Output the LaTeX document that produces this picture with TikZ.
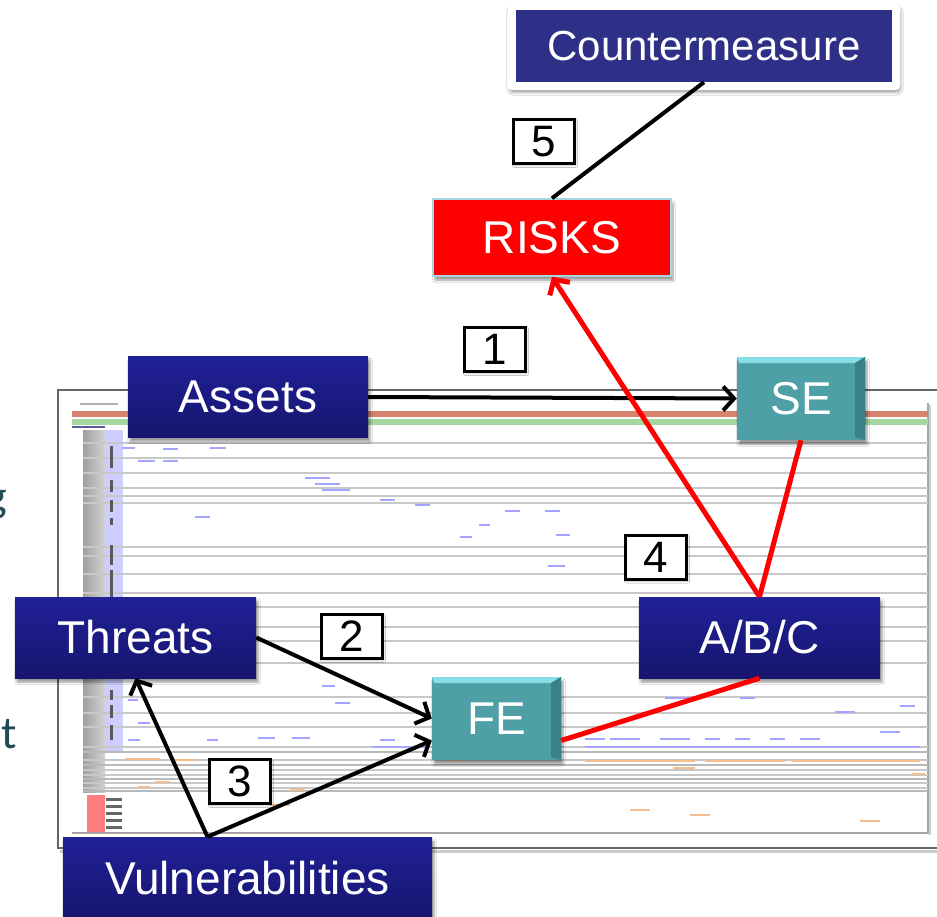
\documentclass[tikz,border=0pt]{standalone}
\usepackage{fontspec}
\setmainfont{Liberation Sans}
\newfontfamily\calfont{Carlito}
\usetikzlibrary{arrows.meta,shadows.blur,calc}
\definecolor{navytop}{RGB}{32,32,152}
\definecolor{navybot}{RGB}{22,22,110}
\definecolor{cmblue}{RGB}{46,48,135}
\definecolor{tealmain}{RGB}{78,160,166}
\definecolor{tealtop}{RGB}{135,222,230}
\definecolor{tealdark}{RGB}{58,128,135}
\definecolor{riskborder}{RGB}{165,215,225}
\definecolor{slate}{RGB}{35,75,85}
\definecolor{gridline}{RGB}{200,200,200}
\definecolor{dashblue}{RGB}{165,165,255}
\definecolor{dashorange}{RGB}{245,190,140}
\definecolor{bandred}{RGB}{215,130,110}
\definecolor{bandgreen}{RGB}{165,215,160}
\definecolor{lavender}{RGB}{205,205,255}
\definecolor{pinkblock}{RGB}{255,125,125}
\begin{document}
\begin{tikzpicture}[x=1pt,y=-1pt,
  bigfont/.style={font=\fontsize{46}{46}\selectfont},
  softshadow/.style={blur shadow={shadow xshift=2pt,shadow yshift=-4pt,shadow blur steps=6,shadow opacity=40}},
  navybox/.style={draw=none,top color=navytop,bottom color=navybot,text=white,bigfont,
    minimum width=#1,minimum height=81pt,inner sep=0pt,softshadow},
  tealbox/.style={fill=tealmain,text=white,bigfont,minimum width=#1,minimum height=83pt,inner sep=0pt,softshadow,
    path picture={
      \fill[tealtop] (path picture bounding box.north west) -- (path picture bounding box.north east)
        -- ([xshift=-10pt,yshift=-6pt]path picture bounding box.north east)
        -- ([xshift=2pt,yshift=-6pt]path picture bounding box.north west) -- cycle;
      \fill[tealdark] (path picture bounding box.north east) -- (path picture bounding box.south east)
        -- ([xshift=-10pt,yshift=3pt]path picture bounding box.south east)
        -- ([xshift=-10pt,yshift=-6pt]path picture bounding box.north east) -- cycle;
    }},
  numbox/.style={draw=black,line width=3pt,fill=white,minimum width=61pt,minimum height=44pt,
    inner sep=0pt,font=\fontsize{44}{44}\selectfont,
    blur shadow={shadow xshift=1pt,shadow yshift=-2pt,shadow blur steps=4,shadow opacity=25}},
  blackline/.style={draw=black,line width=4pt},
  redline/.style={draw=red,line width=5pt},
  barb/.style={-{Straight Barb[length=11pt,width=24pt]}},
  shotline/.style={draw=gridline,line width=1.6pt},
  bluedash/.style={draw=dashblue,line width=1.6pt},
  orangedash/.style={draw=dashorange,line width=2pt}
]
\useasboundingbox (0,0) rectangle (937,917);
\fill[white] (0,0) rectangle (937,917);

% cut-off slide text on the left
\node[anchor=base east,inner sep=0pt,text=slate,font=\calfont\fontsize{46}{46}\selectfont] (letg) at (7,511) {g};
\node[anchor=base east,inner sep=0pt,text=slate,font=\calfont\fontsize{46}{46}\selectfont] (lett) at (17,748) {t};

% ---- background screenshot ----
\draw[draw=gray!80!black,line width=2pt] (937,390) -- (58,390) -- (58,848) -- (937,848);
\draw[draw=gray!40,line width=3pt] (60,851) -- (937,851);
\draw[draw=gray!70,line width=1.5pt] (928,403) -- (928,833) -- (72,833);
\draw[draw=gray!40,line width=2pt] (930,405) -- (930,835);
\draw[draw=gray!60,line width=1.2pt] (80,404) -- (118,404);
\fill[bandred] (72,411) rectangle (928,417);
\fill[bandgreen] (72,419) rectangle (928,425);
\draw[draw=navybot!70,line width=1.2pt] (72,427) -- (105,427);
\shade[left color=gray!75,right color=gray!35] (83,430) rectangle (105,792);
\fill[lavender] (105,430) rectangle (123,752);
\foreach \yy in {443,458,473,488,496,503,547,556,574,593,607,627,641,663,697,713,727,747,760,770,775,783,788}
  \draw[shotline] (83,\yy) -- (928,\yy);
\foreach \yy in {752,765,779,791}
  \draw[draw=gray!55,line width=2pt] (83,\yy) -- (928,\yy);
\foreach \ya/\yb in {446/468,480/492,500/512,518/525,545/565,570/600,625/648,690/700,705/718,725/740}
  \draw[draw=black!65,line width=3pt] (111,\ya) -- (111,\yb);
\fill[pinkblock] (87,795) rectangle (105,832);
\foreach \yy in {799,806,813,820,827}
  \draw[draw=black!60,line width=3pt] (106,\yy) -- (122,\yy);
% blue dashes
\foreach \xa/\xb/\yy in {122/135/448,163/178/449,210/226/448,138/155/461,163/178/461,305/330/478,315/340/484,322/350/490,195/210/517,380/395/500,415/430/505,
  505/520/511,479/490/525,545/560/511,556/570/535,460/472/537,548/565/566,
  128/138/700,322/335/686,335/350/703,138/150/723,128/140/740,207/218/740,258/275/738,292/310/738,380/395/740,
  585/605/739,610/640/739,660/690/739,705/720/739,735/750/739,770/785/739,800/820/739,
  665/695/698,740/755/698,835/855/712,900/915/706,880/900/732,
  585/920/747,372/430/747}
  \draw[bluedash] (\xa,\yy) -- (\xb,\yy);
% orange dashes
\foreach \xa/\xb/\yy in {585/695/761,705/785/761,792/920/761,673/695/768,125/160/759,175/195/760,138/150/787,155/170/782,
  290/305/790,450/470/760,630/650/810,690/710/815,270/290/805,860/880/821,912/925/774}
  \draw[orangedash] (\xa,\yy) -- (\xb,\yy);

% ---- nodes ----
\node[fill=white,rounded corners=4pt,minimum width=392pt,minimum height=86pt,
  blur shadow={shadow xshift=1pt,shadow yshift=-3pt,shadow blur steps=5,shadow opacity=30}] (cmframe) at (704,47) {};
\node[fill=cmblue,text=white,minimum width=376pt,minimum height=72pt,inner sep=0pt,
  font=\fontsize{42}{42}\selectfont] (cm) at (704,46) {Countermeasure};
\node[fill=red,draw=riskborder,line width=1.5pt,text=white,bigfont,minimum width=238pt,minimum height=77pt,
  inner sep=0pt,softshadow] (risks) at (552,237.5) {RISKS};
\node[navybox=240pt] (assets) at (248,397) {Assets};
\node[tealbox=128pt] (se) at (801,398.5) {SE};
\node[navybox=241pt] (abc) at (759.5,637.5) {A/B/C};
\node[navybox=241pt] (threats) at (135.5,637.5) {Threats};
\node[tealbox=129pt] (fe) at (496.5,718.5) {FE};
\node[navybox=369pt,minimum height=82pt] (vuln) at (247.5,878) {Vulnerabilities};

\node[numbox] (n1) at (495,349.5) {1};
\node[numbox] (n2) at (352,636.5) {2};
\node[numbox] (n3) at (240,781.5) {3};
\node[numbox] (n4) at (656,557) {4};
\node[numbox] (n5) at (544,141.5) {5};

% ---- connectors ----
\draw[blackline] (cm.south) -- (risks.north);
\draw[blackline,barb] (assets.east) -- (se.west);
\draw[redline] (se.south) -- (abc.north);
\draw[redline,barb] (abc.north) -- (risks.south);
\draw[redline] (abc.south) -- ([yshift=-22pt]fe.east);
\draw[blackline,barb] (threats.east) -- (fe.west);
\coordinate (vapex) at ([xshift=-40pt]vuln.north);
\draw[blackline,barb,line join=round] (vapex) -- (threats.south);
\draw[blackline,barb,line join=round] (vapex) -- ([yshift=-22pt]fe.west);
\end{tikzpicture}
\end{document}
